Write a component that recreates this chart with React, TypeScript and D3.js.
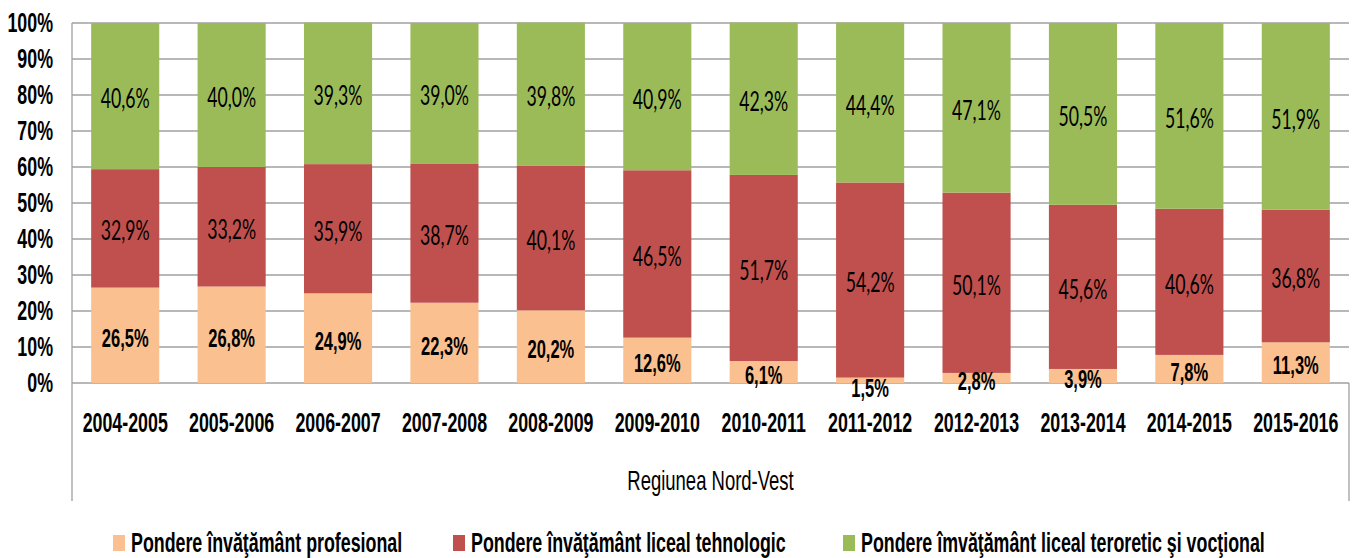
import React from "react";
import * as d3 from "d3";

// school years (category axis)
const years = [
  "2004-2005", "2005-2006", "2006-2007", "2007-2008", "2008-2009", "2009-2010",
  "2010-2011", "2011-2012", "2012-2013", "2013-2014", "2014-2015", "2015-2016",
];

// shares in %, bottom to top
const profesional = [26.5, 26.8, 24.9, 22.3, 20.2, 12.6, 6.1, 1.5, 2.8, 3.9, 7.8, 11.3];
const tehnologic = [32.9, 33.2, 35.9, 38.7, 40.1, 46.5, 51.7, 54.2, 50.1, 45.6, 40.6, 36.8];
const teoretic = [40.6, 40.0, 39.3, 39.0, 39.8, 40.9, 42.3, 44.4, 47.1, 50.5, 51.6, 51.9];

const seriesNames = [
  "Pondere învăţământ profesional",
  "Pondere învăţământ liceal tehnologic",
  "Pondere îmvăţământ liceal teroretic şi vocţional",
];
const seriesColors = ["#FAC090", "#C0504D", "#9BBB59"];
const groupLabel = "Regiunea Nord-Vest";
const yTicks = [0, 10, 20, 30, 40, 50, 60, 70, 80, 90, 100];

const W = 1356;
const H = 558;
const plot = { left: 72, right: 1349, top: 23, bottom: 383 };

const sans = "'Liberation Sans', Arial, sans-serif";
const light = "Lato, Calibri, sans-serif";
const SX = 0.66; // horizontal squeeze to mimic Arial Narrow

const fmt = (v: number) => v.toFixed(1).replace(".", ",") + "%";

// condensed text helper (the source fonts look stretched vertically)
const Txt = ({ x, y, size, sx = SX, bold = false, family = sans, anchor = "middle", children }: any) => (
  <text
    transform={`translate(${x},${y}) scale(${sx},1)`}
    fontFamily={family}
    fontSize={size}
    fontWeight={bold ? "bold" : "normal"}
    textAnchor={anchor}
    dy="0.35em"
    fill="#000"
  >
    {children}
  </text>
);

export default function App() {
  const rows = years.map((yr, i) => ({
    year: yr,
    p: profesional[i],
    t: tehnologic[i],
    g: teoretic[i],
  }));
  const stack = d3.stack<any>().keys(["p", "t", "g"])(rows);

  const x = d3.scaleBand().domain(years).range([plot.left, plot.right]).paddingInner(0.36).paddingOuter(0.18);
  const y = d3.scaleLinear().domain([0, 100]).range([plot.bottom, plot.top]);

  const legendX = [113, 453, 843];

  return (
    <svg
      width={W}
      height={H}
      style={{ position: "absolute", left: 0, top: 0, background: "#fff" }}
    >
      {/* grid */}
      {yTicks.map((t) => (
        <line key={t} x1={plot.left} x2={plot.right} y1={y(t)} y2={y(t)} stroke="#a0a0a0" strokeWidth={1.3} />
      ))}
      <line x1={plot.left} x2={plot.left} y1={plot.top} y2={501} stroke="#a0a0a0" strokeWidth={1.3} />
      <line x1={plot.right} x2={plot.right} y1={plot.bottom} y2={501} stroke="#a0a0a0" strokeWidth={1.3} />

      {/* bars */}
      {stack.map((s, si) =>
        s.map((d, i) => (
          <rect
            key={si + "-" + i}
            x={x(years[i])}
            width={x.bandwidth()}
            y={y(d[1])}
            height={y(d[0]) - y(d[1])}
            fill={seriesColors[si]}
          />
        ))
      )}

      {/* value labels */}
      {stack.map((s, si) =>
        s.map((d, i) => {
          const v = d[1] - d[0];
          const h = y(d[0]) - y(d[1]);
          let cy = (y(d[0]) + y(d[1])) / 2 + 3;
          if (h < 8) cy = y(d[0]) + 5;
          const cx = (x(years[i]) as number) + x.bandwidth() / 2;
          return si === 0 ? (
            <Txt key={"l" + si + i} x={cx} y={cy} size={25} bold>
              {fmt(v)}
            </Txt>
          ) : (
            <Txt key={"l" + si + i} x={cx} y={cy} size={26} sx={0.68} family={light}>
              {fmt(v)}
            </Txt>
          );
        })
      )}

      {/* y axis */}
      {yTicks.map((t) => (
        <Txt key={"y" + t} x={53} y={y(t)} size={27} bold anchor="end">
          {t + "%"}
        </Txt>
      ))}

      {/* x axis */}
      {years.map((yr) => (
        <Txt key={yr} x={(x(yr) as number) + x.bandwidth() / 2} y={423} size={27} bold>
          {yr}
        </Txt>
      ))}
      <Txt x={(plot.left + plot.right) / 2} y={480} size={28}>
        {groupLabel}
      </Txt>

      {/* legend */}
      {seriesNames.map((n, i) => (
        <g key={n}>
          <rect x={legendX[i]} y={535} width={12} height={16} fill={seriesColors[i]} />
          <Txt x={legendX[i] + 18} y={543} size={27} bold anchor="start">
            {n}
          </Txt>
        </g>
      ))}
    </svg>
  );
}
